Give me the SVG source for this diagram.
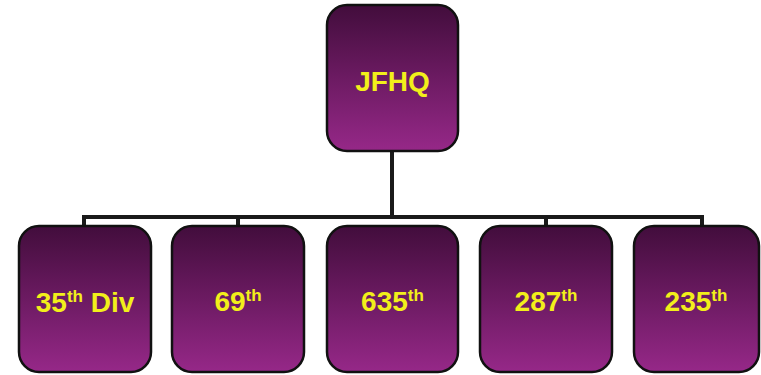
<svg xmlns="http://www.w3.org/2000/svg" width="761" height="375" viewBox="0 0 761 375">
<defs>
<linearGradient id="g" x1="0" y1="0" x2="0" y2="1">
<stop offset="0" stop-color="#420d3c"/>
<stop offset="1" stop-color="#962888"/>
</linearGradient>
</defs>
<style>
.box{fill:url(#g);stroke:#111;stroke-width:2.5}
.lbl{font-family:"Liberation Sans",Arial,sans-serif;font-weight:bold;fill:#f2ef1a;font-size:28px;text-anchor:middle}
.sup{font-size:17px}
.con{fill:none;stroke:#1a1a1a;stroke-width:4}
</style>
<rect width="761" height="375" fill="#fff"/>
<g id="connectors">
<path class="con" d="M392,151 V217 M84,228 V217 H702 V228 M238,217 V228 M546,217 V228"/>
</g>
<g id="jfhq">
<rect class="box" x="327" y="5" width="131" height="146" rx="20"/>
<text class="lbl" x="392.5" y="91">JFHQ</text>
</g>
<g id="n35div">
<rect class="box" x="19" y="226" width="132" height="146" rx="20"/>
<text class="lbl" x="85" y="312">35<tspan class="sup" dy="-10">th</tspan><tspan dy="10"> Div</tspan></text>
</g>
<g id="n69">
<rect class="box" x="172" y="226" width="132" height="146" rx="20"/>
<text class="lbl" x="238" y="311">69<tspan class="sup" dy="-10">th</tspan></text>
</g>
<g id="n635">
<rect class="box" x="327" y="226" width="131" height="146" rx="20"/>
<text class="lbl" x="392.5" y="311">635<tspan class="sup" dy="-10">th</tspan></text>
</g>
<g id="n287">
<rect class="box" x="480" y="226" width="132" height="146" rx="20"/>
<text class="lbl" x="546" y="311">287<tspan class="sup" dy="-10">th</tspan></text>
</g>
<g id="n235">
<rect class="box" x="634" y="226" width="125" height="146" rx="20"/>
<text class="lbl" x="696" y="311">235<tspan class="sup" dy="-10">th</tspan></text>
</g>
</svg>
